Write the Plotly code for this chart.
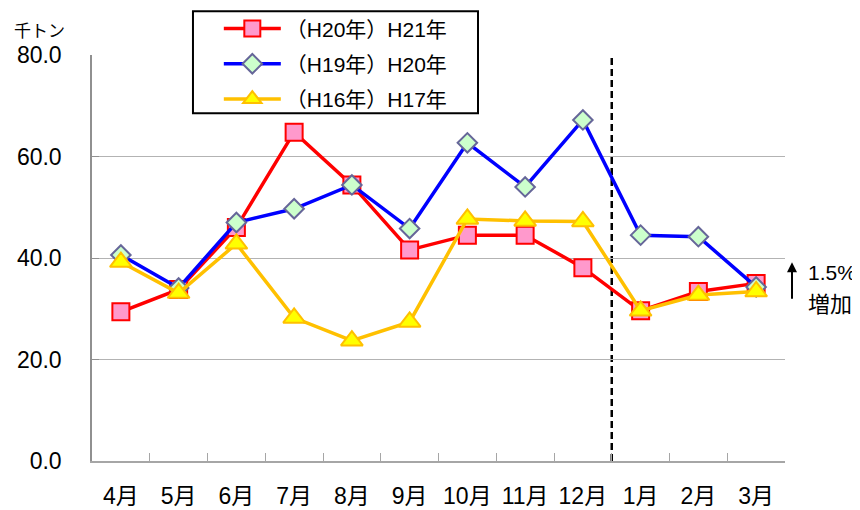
import plotly.graph_objects as go

months = ["4月", "5月", "6月", "7月", "8月", "9月", "10月", "11月", "12月", "1月", "2月", "3月"]
h21 = [29.4, 33.8, 46.0, 64.8, 54.4, 41.6, 44.5, 44.5, 38.1, 29.6, 33.4, 35.0]
h20 = [40.6, 34.1, 47.0, 49.7, 54.4, 45.8, 62.7, 54.0, 67.2, 44.5, 44.2, 34.3]
h17 = [39.2, 33.1, 42.8, 28.2, 23.7, 27.4, 47.7, 47.3, 47.2, 29.6, 32.7, 33.4]
names = ["（H20年）H21年", "（H19年）H20年", "（H16年）H17年"]
yticks = [0, 20, 40, 60, 80]

FONT = "Liberation Sans, Arial, Noto Sans CJK JP, sans-serif"

fig = go.Figure()
fig.add_trace(go.Scatter(
    x=months, y=h21, name=names[0], mode="lines+markers", legendgroup="a",
    line=dict(color="#FF0000", width=3.5),
    marker=dict(symbol="square", size=17, color="#FF99CC", line=dict(color="#FF0000", width=2)),
))
fig.add_trace(go.Scatter(
    x=months, y=h20, name=names[1], mode="lines+markers", legendgroup="b",
    line=dict(color="#0000FF", width=3.5),
    marker=dict(symbol="diamond", size=15, color="#CCFFCC", line=dict(color="#666699", width=2)),
))
fig.add_trace(go.Scatter(
    x=months, y=h17, name=names[2], mode="lines+markers", legendgroup="c",
    line=dict(color="#FFC000", width=3.5),
    marker=dict(symbol="triangle-up", size=19, color="#FFFF00", line=dict(color="#FFC000", width=2)),
))

# dashed separator between 12月 and 1月
fig.add_shape(type="line", xref="x", yref="y", x0=8.5, x1=8.5, y0=0, y1=80,
              line=dict(color="black", width=2.5, dash="7px,4px"), layer="below")

# legend frame
fig.add_shape(type="rect", xref="paper", yref="paper", x0=0.1457, x1=0.557, y0=0.8564, y1=1.1076,
              line=dict(color="black", width=2), fillcolor="white", layer="above")

fig.add_annotation(xref="paper", yref="paper", x=-0.116, y=1.086, text="千トン",
                   xanchor="left", showarrow=False, font=dict(size=17, color="black", family=FONT))
fig.add_annotation(xref="paper", yref="paper", x=1.0101, y=0.4894, text="",
                   showarrow=True, ax=0, ay=38, arrowhead=2, arrowsize=1, arrowwidth=2,
                   arrowcolor="black")
fig.add_annotation(xref="paper", yref="paper", x=1.031, y=0.465, text="1.5%",
                   xanchor="left", showarrow=False, font=dict(size=21, color="black", family=FONT))
fig.add_annotation(xref="paper", yref="paper", x=1.031, y=0.386, text="増加",
                   xanchor="left", showarrow=False, font=dict(size=22, color="black", family=FONT))

fig.update_layout(
    width=852, height=502,
    margin=dict(l=84, r=75, t=47, b=49, autoexpand=False),
    paper_bgcolor="white", plot_bgcolor="white",
    font=dict(family=FONT, color="black"),
    showlegend=True,
    legend=dict(x=0.183, y=1.115, xanchor="left", yanchor="top",
                borderwidth=0, bgcolor="rgba(0,0,0,0)",
                font=dict(size=21, family=FONT), tracegroupgap=5,
                itemwidth=57),
    xaxis=dict(
        type="category", range=[-0.5, 11.5],
        showline=True, linecolor="#A6A6A6", linewidth=1.5,
        ticks="inside", tickson="boundaries", ticklen=8, tickcolor="#A6A6A6",
        showgrid=False, tickfont=dict(size=23), ticklabelstandoff=14,
        automargin=False,
    ),
    yaxis=dict(
        range=[0, 80], tickvals=yticks, tickformat=".1f",
        showline=True, linecolor="#909090", linewidth=1.5,
        ticks="inside", ticklen=7, tickcolor="#909090",
        showgrid=True, gridcolor="#B3B3B3", gridwidth=1.2,
        zeroline=False, tickfont=dict(size=23), ticklabelstandoff=24,
        automargin=False,
    ),
)

fig.write_html("out.html")
